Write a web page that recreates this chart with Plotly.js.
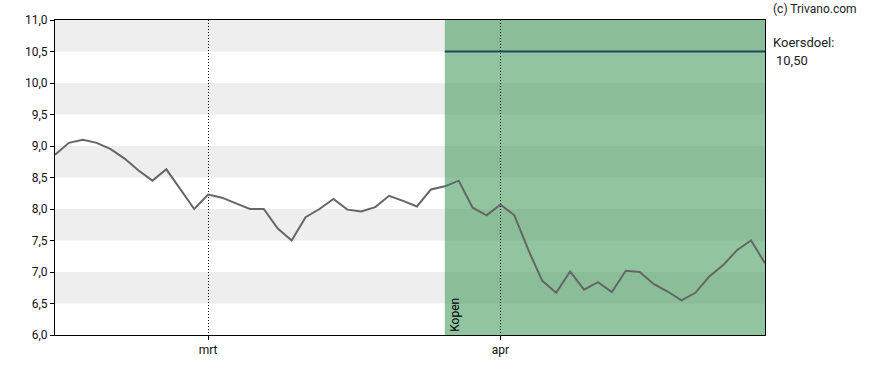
<!DOCTYPE html>
<html>
<head>
<meta charset="utf-8">
<script src="https://cdn.plot.ly/plotly-3.0.1.min.js"></script>
<style>html,body{margin:0;padding:0;background:#fff;}#chart{width:888px;height:370px;}</style>
</head>
<body>
<div id="chart"></div>
<script>
// trading-day index (0 = first day shown)
const dayIndex = Array.from({length: 52}, (_, i) => i);
const prices = [
  8.86, 9.05, 9.10, 9.05, 8.95, 8.80, 8.61, 8.45, 8.63, 8.32,
  8.00, 8.23, 8.18, 8.09, 8.00, 8.00, 7.69, 7.50, 7.87, 8.00,
  8.16, 7.99, 7.96, 8.03, 8.21, 8.13, 8.04, 8.31, 8.36, 8.45,
  8.02, 7.90, 8.07, 7.90, 7.35, 6.86, 6.67, 7.01, 6.72, 6.84,
  6.68, 7.02, 7.00, 6.81, 6.69, 6.55, 6.67, 6.93, 7.11, 7.35,
  7.50, 7.14
];
const monthTickIdx = [11, 32];
const monthTickText = ['mrt', 'apr'];
const yTicks = [6.0, 6.5, 7.0, 7.5, 8.0, 8.5, 9.0, 9.5, 10.0, 10.5, 11.0];
const greyBandStarts = [6.5, 7.5, 8.5, 9.5, 10.5];
const bandHeight = 0.5;
const adviceStartIdx = 28;
const adviceLabel = 'Kopen';
const targetPrice = 10.50;
const targetLabel = 'Koersdoel:';
const targetText = '10,50';
const copyright = '(c) Trivano.com';

const shapes = [];
greyBandStarts.forEach(b => shapes.push({
  type: 'rect', xref: 'paper', yref: 'y', x0: 0, x1: 1, y0: b, y1: b + bandHeight,
  fillcolor: '#eeeeee', line: {width: 0}, layer: 'below'
}));
shapes.push({
  type: 'rect', xref: 'x', yref: 'paper', x0: adviceStartIdx, x1: dayIndex[dayIndex.length - 1],
  y0: 0, y1: 1, fillcolor: 'rgba(70,158,96,0.6)', line: {width: 0}, layer: 'below'
});

const traces = [
  {x: dayIndex, y: prices, type: 'scatter', mode: 'lines',
   line: {color: '#666666', width: 2}, hoverinfo: 'skip'},
  {x: [adviceStartIdx, dayIndex[dayIndex.length - 1]], y: [targetPrice, targetPrice],
   type: 'scatter', mode: 'lines', line: {color: '#1d4a5a', width: 2}, hoverinfo: 'skip'}
];

const layout = {
  width: 888, height: 370,
  margin: {l: 55, r: 123, t: 20, b: 35},
  paper_bgcolor: '#ffffff', plot_bgcolor: '#ffffff',
  showlegend: false,
  separators: ',.',
  font: {family: 'Roboto, sans-serif', size: 11, color: '#222222'},
  xaxis: {
    range: [0, dayIndex[dayIndex.length - 1]],
    tickmode: 'array', tickvals: monthTickIdx, ticktext: monthTickText,
    ticks: 'outside', ticklen: 4, tickcolor: '#000',
    showgrid: true, gridcolor: '#000000', gridwidth: 1, griddash: '1px,2px',
    showline: true, linecolor: '#000', linewidth: 1, mirror: true,
    zeroline: false, fixedrange: true,
    tickfont: {size: 12, color: '#111'}
  },
  yaxis: {
    range: [6, 11],
    tickmode: 'array', tickvals: yTicks, tickformat: '.1f',
    ticks: 'outside', ticklen: 4, tickcolor: '#000',
    showgrid: false, showline: true, linecolor: '#000', linewidth: 1, mirror: true,
    zeroline: false, fixedrange: true,
    tickfont: {size: 12, color: '#111'}
  },
  shapes: shapes,
  annotations: [
    {text: adviceLabel, xref: 'x', yref: 'y', x: adviceStartIdx, y: 6, xanchor: 'left', yanchor: 'bottom',
     textangle: -90, showarrow: false, font: {size: 12, color: '#000'}, xshift: 1, yshift: 1},
    {text: copyright, xref: 'paper', yref: 'paper', x: 1.009, y: 1.035, xanchor: 'left', yanchor: 'middle',
     showarrow: false, font: {size: 12, color: '#222'}},
    {text: targetLabel, xref: 'paper', yref: 'paper', x: 1.009, y: 0.927, xanchor: 'left', yanchor: 'middle',
     showarrow: false, font: {size: 13, color: '#222'}},
    {text: targetText, xref: 'paper', yref: 'paper', x: 1.013, y: 0.873, xanchor: 'left', yanchor: 'middle',
     showarrow: false, font: {size: 13, color: '#222'}}
  ]
};

Plotly.newPlot('chart', traces, layout, {staticPlot: true, displayModeBar: false});
</script>
</body>
</html>
